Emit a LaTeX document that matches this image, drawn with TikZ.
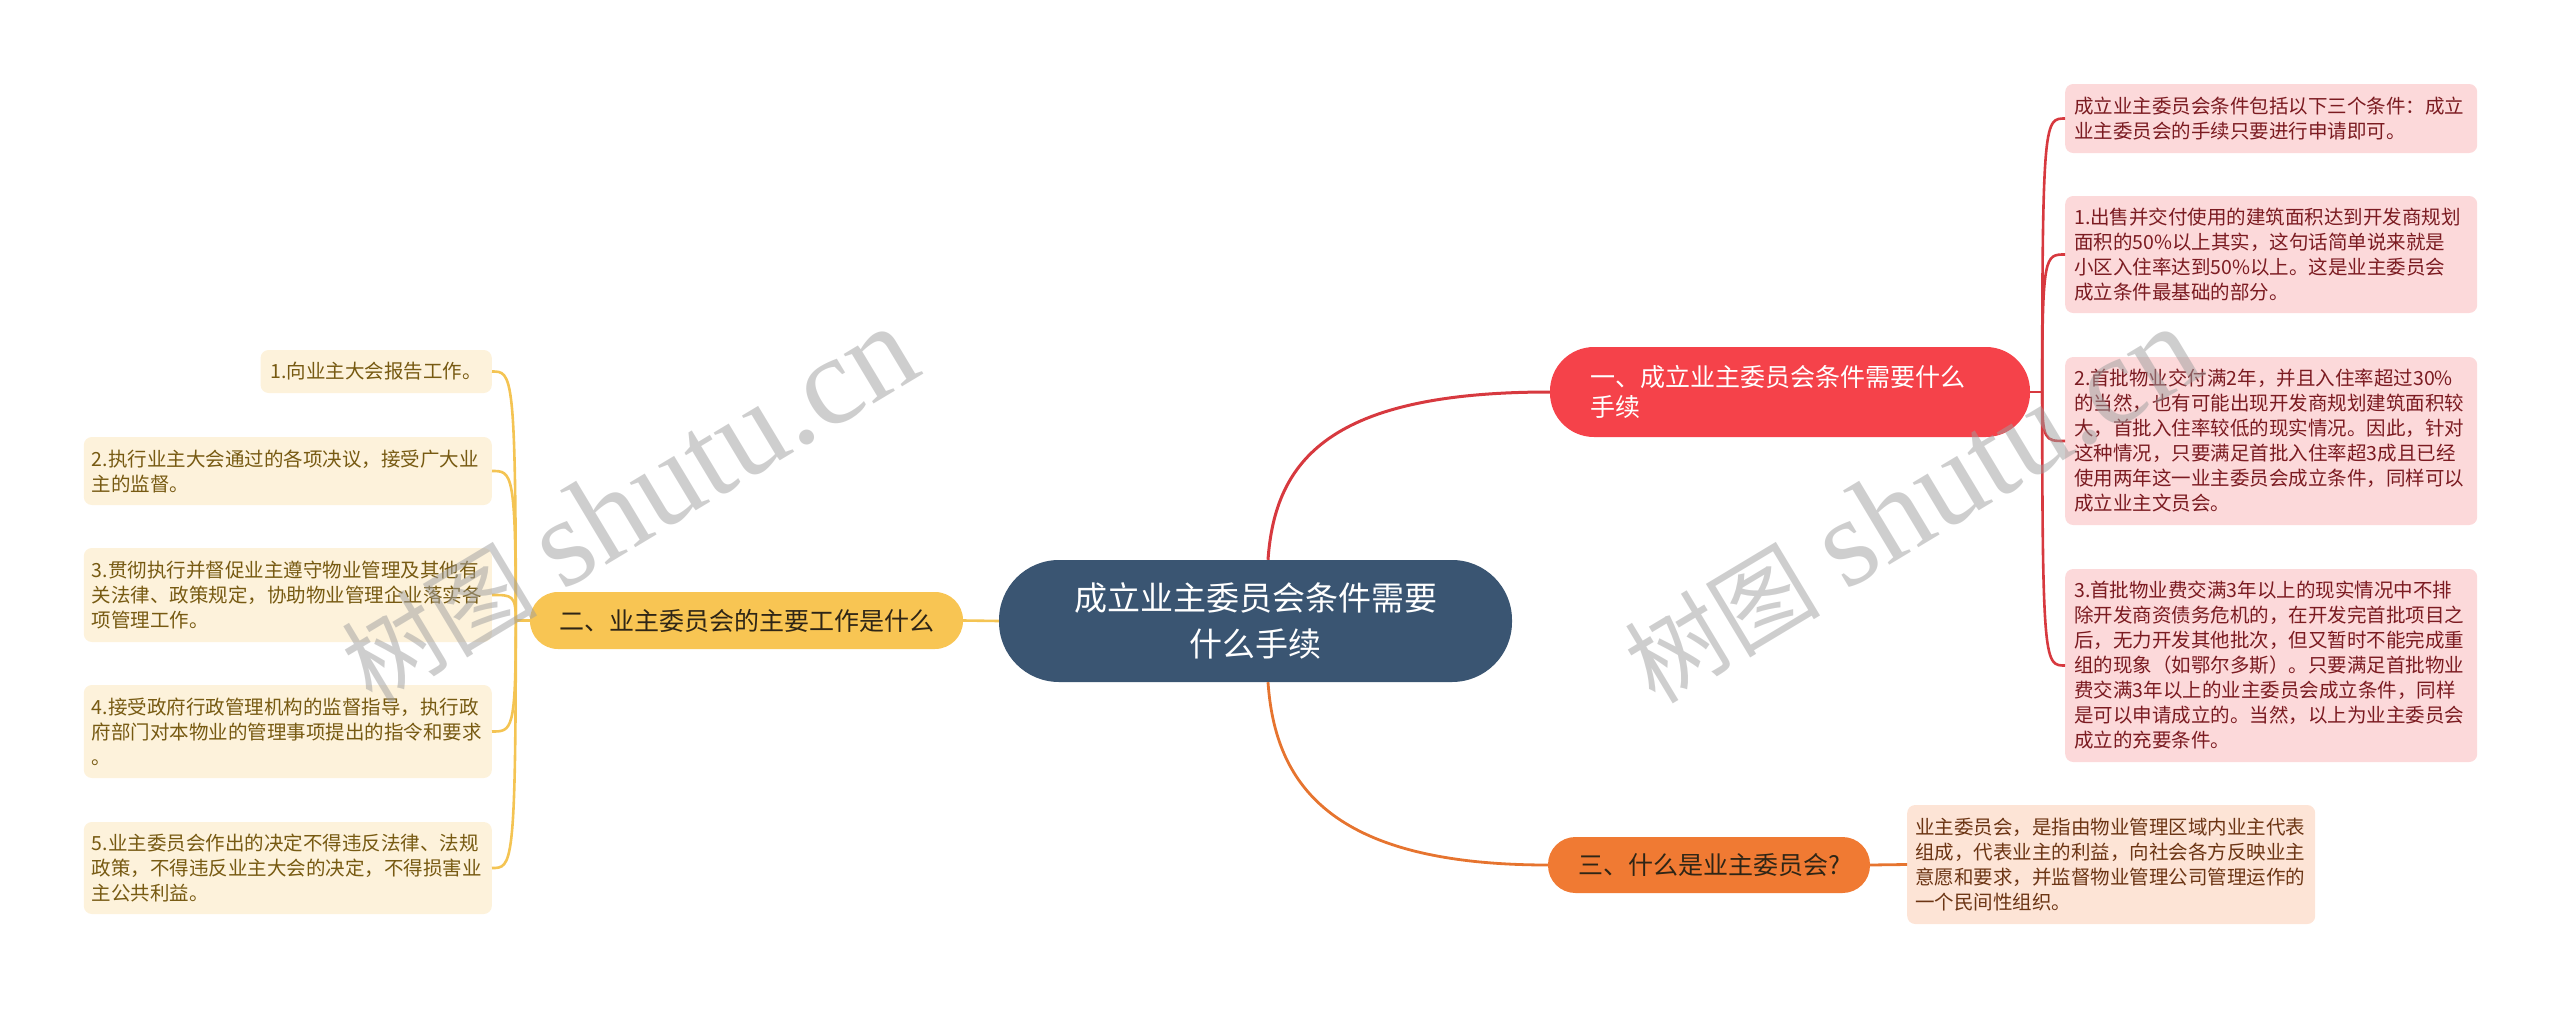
\documentclass[tikz,border=0pt]{standalone}
\usepackage{fontspec}
\newfontfamily\cjk{Noto Sans CJK SC}
\newfontfamily\wmlat{Liberation Serif}
\usetikzlibrary{calc}
\definecolor{cfill}{HTML}{3A5572}
\definecolor{rfill}{HTML}{F5424A}
\definecolor{rline}{HTML}{D7393F}
\definecolor{yfill}{HTML}{F8C553}
\definecolor{yline}{HTML}{F4C453}
\definecolor{ofill}{HTML}{F07A33}
\definecolor{oline}{HTML}{E6742F}
\definecolor{pinkfill}{HTML}{FCD9DA}
\definecolor{pinktext}{HTML}{7B1B21}
\definecolor{peachfill}{HTML}{FDE4D6}
\definecolor{peachtext}{HTML}{6C3514}
\definecolor{creamfill}{HTML}{FDF2DB}
\definecolor{creamtext}{HTML}{775A12}
\definecolor{darktext}{HTML}{2E2516}
\begin{document}
\begin{tikzpicture}[x=1pt,y=-1pt,
  leaffont/.style={font={\cjk\fontsize{19.5pt}{25pt}\selectfont}},
  leafR/.style={leaffont, fill=pinkfill, text=pinktext, rounded corners=8pt, align=left,
    text width=394pt, inner xsep=9pt, inner ysep=0pt, anchor=west},
  leafO/.style={leaffont, fill=peachfill, text=peachtext, rounded corners=8pt, align=left,
    text width=392pt, inner xsep=8pt, inner ysep=0pt, anchor=west},
  leafY/.style={leaffont, fill=creamfill, text=creamtext, rounded corners=8pt, align=left,
    text width=392pt, inner xsep=8pt, inner ysep=0pt, anchor=east},
  leafYone/.style={leaffont, fill=creamfill, text=creamtext, rounded corners=8pt,
    inner xsep=10pt, inner ysep=0pt, anchor=east},
  centerbox/.style={fill=cfill, text=white, font={\cjk\fontsize{33pt}{46pt}\selectfont},
    align=center, minimum width=513pt, minimum height=122pt, rounded corners=60pt, inner sep=0pt},
  branchfont/.style={font={\cjk\fontsize{25pt}{30pt}\selectfont}},
  redline/.style={draw=rline, line width=3pt},
  redthin/.style={draw=rline, line width=2.6pt},
  yline/.style={draw=yline, line width=2.6pt},
  oline/.style={draw=oline, line width=2.8pt},
  wmark/.style={text=black!38, text opacity=0.5, rotate=31, anchor=base west, inner sep=0pt}
]
\useasboundingbox (0,0) rectangle (2560,1009);

% central
\node[centerbox] (c) at (1255.5,621) {成立业主委员会条件需要\\什么手续};

% branches
\node[branchfont, fill=rfill, text=white, align=left, text width=400pt, inner xsep=40pt, inner ysep=0pt,
  minimum height=90pt, rounded corners=44pt] (b1) at (1790,392) {一、成立业主委员会条件需要什么\\手续};
\node[branchfont, fill=yfill, text=darktext, minimum width=433pt, minimum height=57pt,
  rounded corners=28pt, inner sep=0pt] (b2) at (746.5,620.5) {二、业主委员会的主要工作是什么};
\node[branchfont, fill=ofill, text=darktext, minimum width=322pt, minimum height=56pt,
  rounded corners=27.5pt, inner sep=0pt] (b3) at (1709,865) {三、什么是业主委员会?};

% right leaves
\node[leafR, minimum height=69pt] (r1) at (2065,118.5) {成立业主委员会条件包括以下三个条件：成立\\业主委员会的手续只要进行申请即可。};
\node[leafR, minimum height=117pt] (r2) at (2065,254.5) {1.出售并交付使用的建筑面积达到开发商规划\\面积的50\%以上其实，这句话简单说来就是\\小区入住率达到50\%以上。这是业主委员会\\成立条件最基础的部分。};
\node[leafR, minimum height=168pt] (r3) at (2065,441) {2.首批物业交付满2年，并且入住率超过30\%\\的当然，也有可能出现开发商规划建筑面积较\\大，首批入住率较低的现实情况。因此，针对\\这种情况，只要满足首批入住率超3成且已经\\使用两年这一业主委员会成立条件，同样可以\\成立业主文员会。};
\node[leafR, minimum height=193pt] (r4) at (2065,665.5) {3.首批物业费交满3年以上的现实情况中不排\\除开发商资债务危机的，在开发完首批项目之\\后，无力开发其他批次，但又暂时不能完成重\\组的现象（如鄂尔多斯）。只要满足首批物业\\费交满3年以上的业主委员会成立条件，同样\\是可以申请成立的。当然，以上为业主委员会\\成立的充要条件。};

% orange leaf
\node[leafO, minimum height=119pt] (p1) at (1907,864.5) {业主委员会，是指由物业管理区域内业主代表\\组成，代表业主的利益，向社会各方反映业主\\意愿和要求，并监督物业管理公司管理运作的\\一个民间性组织。};

% left leaves
\node[leafYone, minimum height=43pt] (y1) at (492,371.5) {1.向业主大会报告工作。};
\node[leafY, minimum height=68pt] (y2) at (492,471) {2.执行业主大会通过的各项决议，接受广大业\\主的监督。};
\node[leafY, minimum height=94pt] (y3) at (492,595) {3.贯彻执行并督促业主遵守物业管理及其他有\\关法律、政策规定，协助物业管理企业落实各\\项管理工作。};
\node[leafY, minimum height=93pt] (y4) at (492,731.5) {4.接受政府行政管理机构的监督指导，执行政\\府部门对本物业的管理事项提出的指令和要求\\。};
\node[leafY, minimum height=92pt] (y5) at (492,868) {5.业主委员会作出的决定不得违反法律、法规\\政策，不得违反业主大会的决定，不得损害业\\主公共利益。};

% main connectors
\coordinate (c1) at ($(c.north)+(12.5,0)$);
\coordinate (c3) at ($(c.south)+(12.5,0)$);
\draw[redline] (c1) .. controls ($(c1)+(7,-100)$) and ($(b1.west)+(-220,0)$) .. (b1.west);
\draw[oline] (c3) .. controls ($(c3)+(7,100)$) and ($(b3.west)+(-220,0)$) .. (b3.west);
\draw[yline] (c.west) -- (b2.east);

% right bracket
\coordinate (t1) at ($(b1.east)+(12,0)$);
\draw[redthin] (b1.east) -- (t1);
\foreach \n in {r1,r2,r3,r4}{
  \draw[redthin] (t1) .. controls (t1 |- \n.west) and ($(\n.west)+(-20,0)$) .. (\n.west);
}

% left bracket
\coordinate (t2) at ($(b2.west)+(-14,0)$);
\draw[yline] (b2.west) -- (t2);
\foreach \n in {y1,y2,y3,y4,y5}{
  \draw[yline] (t2) .. controls (t2 |- \n.east) and ($(\n.east)+(20,0)$) .. (\n.east);
}

% orange leaf connector
\draw[oline] (b3.east) -- (p1.west);

% watermarks
\node[wmark] (w1) at (372,706) {{\cjk\fontsize{98pt}{98pt}\selectfont 树图}\hspace{26pt}{\wmlat\fontsize{126pt}{126pt}\selectfont shutu.cn}};
\node[wmark] (w2) at (1655,706) {{\cjk\fontsize{98pt}{98pt}\selectfont 树图}\hspace{26pt}{\wmlat\fontsize{126pt}{126pt}\selectfont shutu.cn}};
\end{tikzpicture}
\end{document}
